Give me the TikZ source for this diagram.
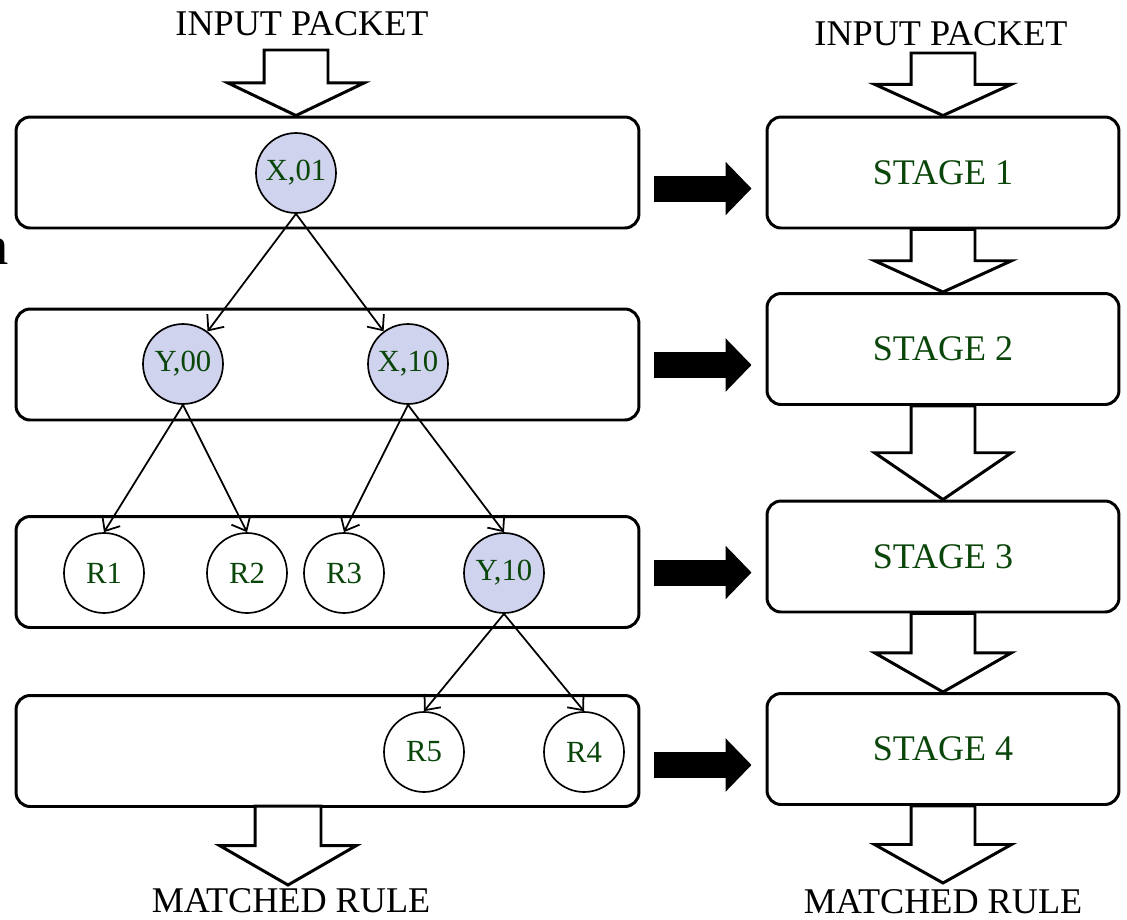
\documentclass[tikz,border=0pt]{standalone}
\usepackage{fontspec}
\setmainfont{Liberation Serif}
\usepackage{xcolor}
\usetikzlibrary{arrows.meta,calc}
\definecolor{labelgreen}{RGB}{10,70,10}
\definecolor{nodefill}{RGB}{208,211,238}

\newcommand{\hollowdown}[4]{% start, tip, shaft half width, head half width
  \draw[hollow] let \p1=(#1), \p2=(#2), \p3=($(#1)!0.5!(#2)$) in
    (\x1-#3,\y1) -- (\x1-#3,\y3) -- (\x1-#4,\y3) -- (\x2,\y2)
    -- (\x1+#4,\y3) -- (\x1+#3,\y3) -- (\x1+#3,\y1) -- cycle;}

\begin{document}
\begin{tikzpicture}[line cap=butt,line join=miter,x=0.02cm,y=-0.02cm,
    lbox/.style={draw,line width=1.7pt,rounded corners=8pt,minimum width=12.46cm,minimum height=2.22cm},
    sbox/.style={draw,line width=1.7pt,rounded corners=8pt,minimum width=7.04cm,minimum height=2.22cm,
        text=labelgreen,font=\fontsize{20.5}{24}\selectfont},
    tnode/.style={circle,draw,line width=0.95pt,fill=white,minimum size=1.6cm,inner sep=0pt,
        text=labelgreen,font=\fontsize{17.5}{20}\selectfont},
    inner/.style={tnode,fill=nodefill},
    header/.style={anchor=base,inner sep=0pt,font=\fontsize{20.6}{24}\selectfont},
    edge/.style={-{Straight Barb[length=7pt,width=12pt]},line width=1pt},
    fat/.style={line width=14.8pt,-{Triangle[length=14.8pt,width=29.6pt]}},
    hollow/.style={draw,line width=1.7pt,fill=white}]
    \useasboundingbox (0,0) rectangle (1127,920);
    \node[anchor=base east,inner sep=0pt,font=\fontsize{31}{31}\selectfont] (cut) at (9,264) {n};

    \node[lbox] (l1) at (327.5,172.5) {};
    \node[lbox] (l2) at (327.5,364.5) {};
    \node[lbox] (l3) at (327.5,572) {};
    \node[lbox] (l4) at (327.5,751) {};

    \node[sbox] (s1) at (943,172.5) {STAGE 1};
    \node[sbox] (s2) at (943,349) {STAGE 2};
    \node[sbox] (s3) at (943,556.5) {STAGE 3};
    \node[sbox] (s4) at (943,749) {STAGE 4};

    \node[inner] (x01) at (296,173) {X,01};
    \node[inner] (y00) at (183,364) {Y,00};
    \node[inner] (x10) at (408,364) {X,10};
    \node[tnode] (r1) at (104,573) {R1};
    \node[tnode] (r2) at (247,573) {R2};
    \node[tnode] (r3) at (344,573) {R3};
    \node[inner] (y10) at (504,573) {Y,10};
    \node[tnode] (r5) at (424,752) {R5};
    \node[tnode] (r4) at (584,752) {R4};

    \draw[edge] (x01.south) -- (y00);
    \draw[edge] (x01.south) -- (x10);
    \draw[edge] (y00.south) -- (r1.north);
    \draw[edge] (y00.south) -- (r2.north);
    \draw[edge] (x10.south) -- (r3.north);
    \draw[edge] (x10.south) -- (y10.north);
    \draw[edge] (y10.south) -- (r5.north);
    \draw[edge] (y10.south) -- (r4.north);

    \foreach \i in {1,2,3,4}
        \draw[fat] ($(s\i.west)+(-112,16)$) -- ($(s\i.west)+(-14,16)$);

    \node[header] (inl) at (302,35) {INPUT PACKET};
    \node[header] (inr) at (941,45) {INPUT PACKET};
    \node[header] (outl) at (291,912) {MATCHED RULE};
    \node[header] (outr) at (943,913) {MATCHED RULE};

    \coordinate (inltop) at (296,50);
    \coordinate (inltip) at (x01 |- l1.north);
    \coordinate (inrtop) at (943,53);
    \coordinate (outltop) at (288,806);
    \coordinate (outltip) at (288,885);
    \coordinate (outrtip) at (943,883);

    \hollowdown{inltop}{inltip}{0.64cm}{1.37cm}
    \hollowdown{inrtop}{s1.north}{0.64cm}{1.37cm}
    \hollowdown{s1.south}{s2.north}{0.64cm}{1.37cm}
    \hollowdown{s2.south}{s3.north}{0.64cm}{1.37cm}
    \hollowdown{s3.south}{s4.north}{0.64cm}{1.37cm}
    \hollowdown{s4.south}{outrtip}{0.64cm}{1.37cm}
    \hollowdown{outltop}{outltip}{0.66cm}{1.37cm}
\end{tikzpicture}
\end{document}
